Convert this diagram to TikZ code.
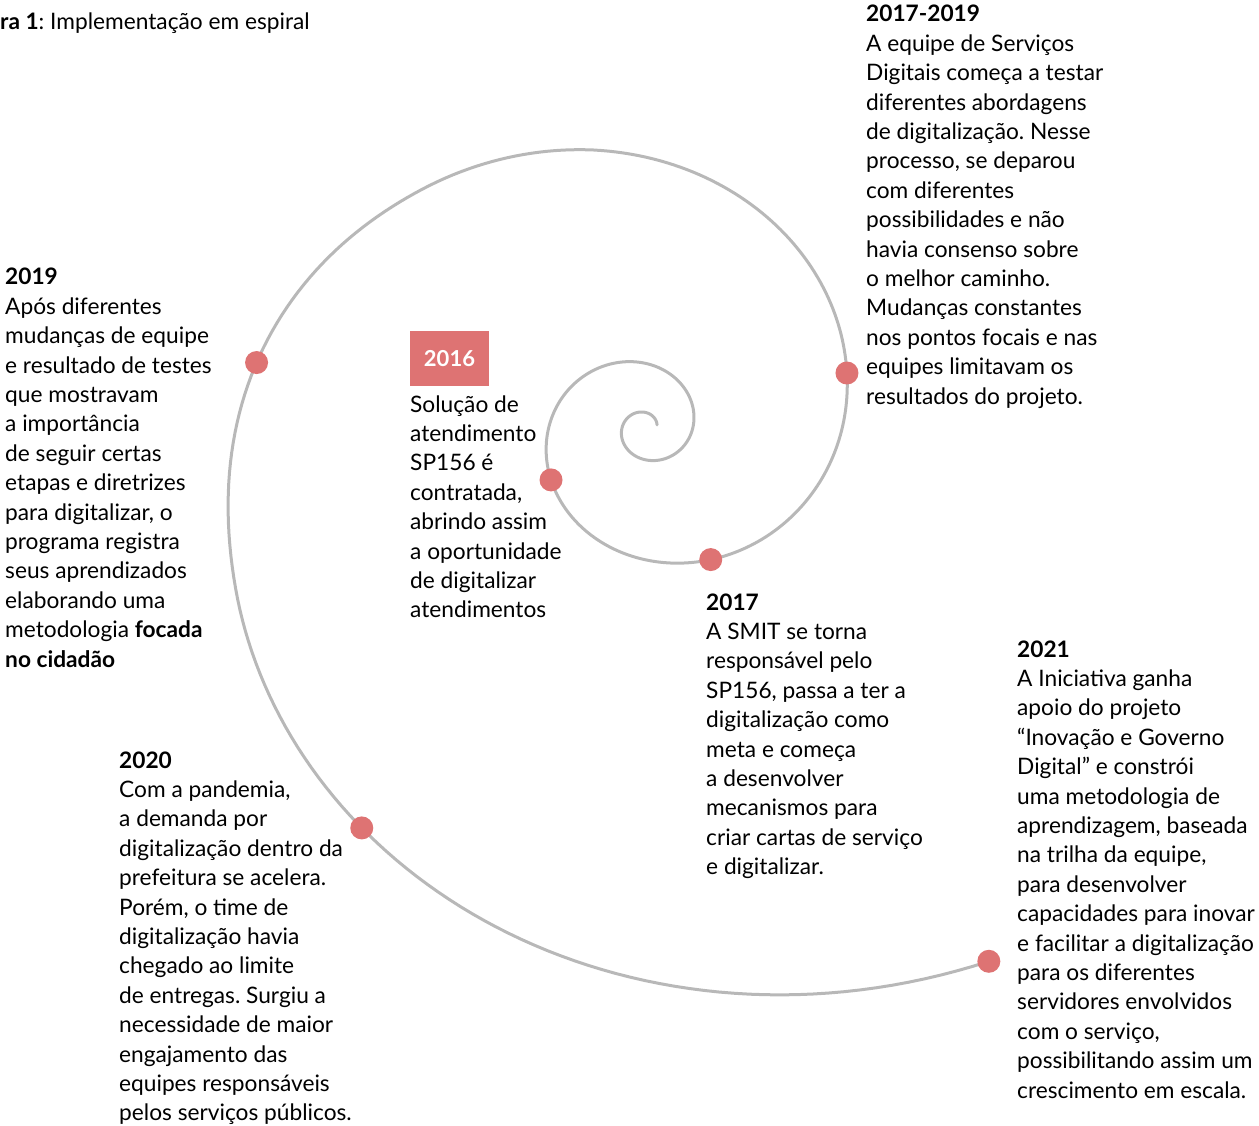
\documentclass[tikz,border=0pt]{standalone}
\usepackage{fontspec}
\setmainfont{Lato}
\frenchspacing
\definecolor{dotred}{RGB}{222,115,115}
\definecolor{spiralgray}{RGB}{184,184,184}
\newcommand\txtblock[1]{\begin{tabular}[t]{@{}l@{}}#1\end{tabular}}
\begin{document}
\begin{tikzpicture}[x=1pt,y=-1pt,
  declare function={bp(\t)=max(0,1-((\t-527)/35)*((\t-527)/35));
    rp(\t)=min(1,max(0,(\t-380)/80));
    sr(\t)=47.47*exp(0.003958*\t)*(1+0.011*rp(\t)+0.013*bp(\t)*bp(\t));},
  txt/.style={anchor=base west, inner sep=0pt, font=\fontsize{22.7}{29.4}\selectfont},
  dot/.style={circle, fill=dotred, minimum size=23pt, inner sep=0pt},
  spiral/.style={draw=spiralgray, line width=3pt, line cap=round},
  yearbox/.style={fill=dotred, text=white, minimum width=79pt, minimum height=55pt, inner sep=0pt, font=\fontsize{22}{26}\selectfont\bfseries}]
\useasboundingbox (0,0) rectangle (1259,1126);

\draw[spiral] plot[domain=-344.6:661.6, samples=700, variable=\t]
  ({645.3+sr(\t)*cos(\t)},{428-0.955*sr(\t)*sin(\t)});

\node[dot] (d2016) at ({645.3+sr(209.97)*cos(209.97)},{428-0.955*sr(209.97)*sin(209.97)}) {};
\node[dot] (d2017) at ({645.3+sr(295.4)*cos(295.4)},{428-0.955*sr(295.4)*sin(295.4)}) {};
\node[dot] (d1719) at ({645.3+sr(375.94)*cos(375.94)},{428-0.955*sr(375.94)*sin(375.94)}) {};
\node[dot] (d2019) at ({645.3+sr(530)*cos(530)},{428-0.955*sr(530)*sin(530)}) {};
\node[dot] (d2020) at ({645.3+sr(595.9)*cos(595.9)},{428-0.955*sr(595.9)*sin(595.9)}) {};
\node[dot] (d2021) at ({645.3+sr(661.6)*cos(661.6)},{428-0.955*sr(661.6)*sin(661.6)}) {};

\node[txt] (title) at (0,30) {\textbf{ra 1}: Implementação em espiral};

\node[yearbox] (y2016) at (449.5,358.5) {2016};

\node[txt] (t1719) at (866,22) {\txtblock{\textbf{2017-2019}\\
A equipe de Serviços\\
Digitais começa a testar\\
diferentes abordagens\\
de digitalização. Nesse\\
processo, se deparou\\
com diferentes\\
possibilidades e não\\
havia consenso sobre\\
o melhor caminho.\\
Mudanças constantes\\
nos pontos focais e nas\\
equipes limitavam os\\
resultados do projeto.}};

\node[txt] (t2019) at (5,285) {\txtblock{\textbf{2019}\\
Após diferentes\\
mudanças de equipe\\
e resultado de testes\\
que mostravam\\
a importância\\
de seguir certas\\
etapas e diretrizes\\
para digitalizar, o\\
programa registra\\
seus aprendizados\\
elaborando uma\\
metodologia \textbf{focada}\\
\textbf{no cidadão}}};

\node[txt] (t2016) at (410,412) {\txtblock{Solução de\\
atendimento\\
SP156 é\\
contratada,\\
abrindo assim\\
a oportunidade\\
de digitalizar\\
atendimentos}};

\node[txt] (t2017) at (706,610) {\txtblock{\textbf{2017}\\
A SMIT se torna\\
responsável pelo\\
SP156, passa a ter a\\
digitalização como\\
meta e começa\\
a desenvolver\\
mecanismos para\\
criar cartas de serviço\\
e digitalizar.}};

\node[txt] (t2020) at (119,768) {\txtblock{\textbf{2020}\\
Com a pandemia,\\
a demanda por\\
digitalização dentro da\\
prefeitura se acelera.\\
Porém, o time de\\
digitalização havia\\
chegado ao limite\\
de entregas. Surgiu a\\
necessidade de maior\\
engajamento das\\
equipes responsáveis\\
pelos serviços públicos.}};

\node[txt] (t2021) at (1017,657) {\txtblock{\textbf{2021}\\
A Iniciativa ganha\\
apoio do projeto\\
“Inovação e Governo\\
Digital” e constrói\\
uma metodologia de\\
aprendizagem, baseada\\
na trilha da equipe,\\
para desenvolver\\
capacidades para inovar\\
e facilitar a digitalização\\
para os diferentes\\
servidores envolvidos\\
com o serviço,\\
possibilitando assim um\\
crescimento em escala.}};
\end{tikzpicture}
\end{document}
